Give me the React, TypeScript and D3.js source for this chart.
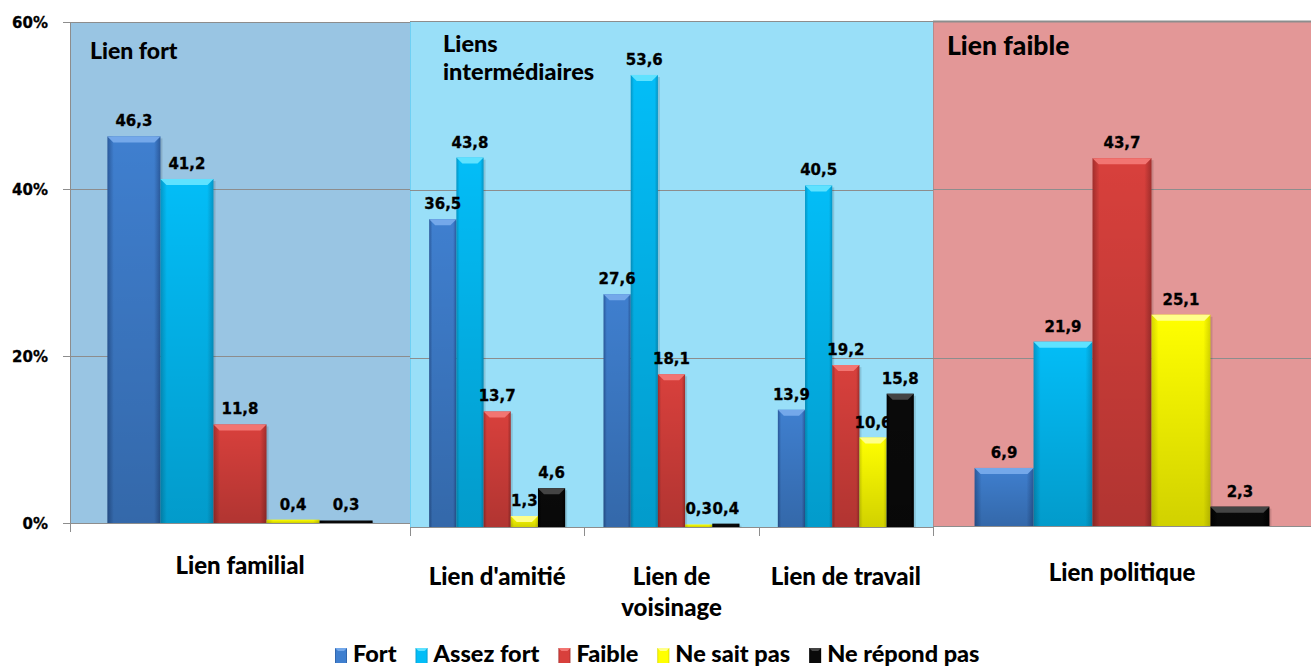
import React, { useEffect, useRef } from "react";
import * as d3 from "d3";

const categories = ["Lien familial", "Lien d'amitié", "Lien de voisinage", "Lien de travail", "Lien politique"];
const categoryLines = [["Lien familial"], ["Lien d'amitié"], ["Lien de", "voisinage"], ["Lien de travail"], ["Lien politique"]];
const seriesNames = ["Fort", "Assez fort", "Faible", "Ne sait pas", "Ne répond pas"];
const fort = [46.3, 36.5, 27.6, 13.9, 6.9];
const assezFort = [41.2, 43.8, 53.6, 40.5, 21.9];
const faible = [11.8, 13.7, 18.1, 19.2, 43.7];
const neSaitPas = [0.4, 1.3, 0.3, 10.6, 25.1];
const neRepondPas = [0.3, 4.6, 0.4, 15.8, 2.3];
const yTicks = [0, 20, 40, 60];
const panelTitles = [["Lien fort"], ["Liens", "intermédiaires"], ["Lien faible"]];

const seriesValues = [fort, assezFort, faible, neSaitPas, neRepondPas];

// visual styling
const seriesColors = [
  { base: "#3f7fcf", edge: "#2b5a9c", top: "#74a8ea" },
  { base: "#03bdf7", edge: "#0496c6", top: "#5fe2ff" },
  { base: "#d8403c", edge: "#a22e2c", top: "#f27572" },
  { base: "#ffff00", edge: "#d6d600", top: "#ffff8a" },
  { base: "#0a0a0a", edge: "#000000", top: "#444444" },
];

const panels = [
  { cats: [0], x0: 70, x1: 410, base: 523, top: 22, fill: "#99c5e3", titleX: 90, titleY: 59, titleSize: 23, lineH: 0 },
  { cats: [1, 2, 3], x0: 410, x1: 933, base: 527, top: 21, fill: "#99dff8", titleX: 443, titleY: 52, titleSize: 23.5, lineH: 28 },
  { cats: [4], x0: 933, x1: 1311, base: 526, top: 21, fill: "#e39797", titleX: 947, titleY: 55, titleSize: 26.5, lineH: 0 },
];

const FONT = "Lato, 'Open Sans', sans-serif";
const NUMFONT = "'DejaVu Sans', Verdana, sans-serif";

export default function App() {
  const ref = useRef<SVGSVGElement | null>(null);

  useEffect(() => {
    document.body.style.margin = "0";
    const svg = d3.select(ref.current);
    svg.selectAll("*").remove();

    const defs = svg.append("defs");
    seriesColors.forEach((c, i) => {
      const g = defs.append("linearGradient").attr("id", `g${i}`).attr("x1", 0).attr("x2", 1).attr("y1", 0).attr("y2", 0);
      g.append("stop").attr("offset", "0").attr("stop-color", c.edge);
      g.append("stop").attr("offset", "0.12").attr("stop-color", c.base);
      g.append("stop").attr("offset", "0.88").attr("stop-color", c.base);
      g.append("stop").attr("offset", "1").attr("stop-color", c.edge);
    });
    const shade = defs.append("linearGradient").attr("id", "shade").attr("x1", 0).attr("x2", 0).attr("y1", 0).attr("y2", 1);
    shade.append("stop").attr("offset", "0").attr("stop-color", "#000").attr("stop-opacity", 0);
    shade.append("stop").attr("offset", "1").attr("stop-color", "#000").attr("stop-opacity", 0.18);

    const fmt = (v: number) => d3.format(".1f")(v).replace(".", ",");
    const grid = "#8d8d8d";

    panels.forEach((p, pi) => {
      const y = d3.scaleLinear().domain([0, 60]).range([p.base, p.top]);
      const g = svg.append("g");
      g.append("rect").attr("x", p.x0).attr("y", y(60)).attr("width", p.x1 - p.x0).attr("height", y(0) - y(60)).attr("fill", p.fill);
      if (pi === 1) {
        g.append("line").attr("x1", p.x0 + 0.5).attr("x2", p.x0 + 0.5).attr("y1", y(60)).attr("y2", y(0)).attr("stroke", "#6fd0f4");
      }
      if (pi === 2) {
        g.append("line").attr("x1", p.x0 + 0.5).attr("x2", p.x0 + 0.5).attr("y1", y(60)).attr("y2", y(0)).attr("stroke", "#b78a8a");
      }
      // gridlines
      yTicks.forEach((t) => {
        g.append("line")
          .attr("x1", pi === 0 ? p.x0 - 7 : p.x0).attr("x2", p.x1)
          .attr("y1", Math.round(y(t)) + 0.5).attr("y2", Math.round(y(t)) + 0.5)
          .attr("stroke", grid).attr("stroke-width", t === 60 && pi === 2 ? 2 : 1);
      });
      // x axis ticks
      const catBand = d3.scaleBand<number>().domain(p.cats).range([p.x0, p.x1]);
      const tickXs = [p.x0, ...p.cats.map((c) => (catBand(c) as number) + catBand.bandwidth())];
      tickXs.forEach((tx, k) => {
        if (pi === 2 && k > 0) return;
        g.append("line").attr("x1", Math.round(tx) + 0.5).attr("x2", Math.round(tx) + 0.5)
          .attr("y1", y(0)).attr("y2", y(0) + 9).attr("stroke", grid);
      });

      if (pi === 0) {
        g.append("line").attr("x1", p.x0 + 0.5).attr("x2", p.x0 + 0.5).attr("y1", y(60)).attr("y2", y(0) + 9).attr("stroke", grid);
        yTicks.forEach((t) => {
          g.append("text").attr("x", 48).attr("y", y(t) + 5.5).attr("text-anchor", "end")
            .attr("font-family", NUMFONT).attr("font-weight", "bold").attr("font-size", 15).attr("fill", "#000")
            .attr("stroke", "#000").attr("stroke-width", 0.3)
            .text(`${t}%`);
        });
      }

      // title
      const tt = g.append("text").attr("font-family", FONT).attr("font-weight", 900).attr("font-size", p.titleSize).attr("fill", "#000");
      panelTitles[pi].forEach((line, li) => {
        tt.append("tspan").attr("x", p.titleX).attr("y", p.titleY + li * p.lineH).text(line);
      });

      // bars
      const drawSeries = (si: number) => {
        p.cats.forEach((c) => {
          const bx = catBand(c) as number;
          const bw = catBand.bandwidth();
          const xs = d3.scaleBand<number>().domain(d3.range(seriesNames.length)).range([bx + bw * 0.11, bx + bw * 0.89]);
          const v = seriesValues[si][c];
          const x = xs(si) as number;
          const w = xs.bandwidth();
          const top = y(v);
          const h = y(0) - top;
          const bg = g.append("g");
          bg.append("rect").attr("x", x + 2).attr("y", top + 2).attr("width", w).attr("height", h - 2).attr("fill", "#000").attr("opacity", 0.12);
          bg.append("rect").attr("x", x).attr("y", top).attr("width", w).attr("height", h).attr("fill", `url(#g${si})`);
          bg.append("rect").attr("x", x).attr("y", top).attr("width", w).attr("height", h).attr("fill", "url(#shade)");
          if (h > 8) {
            const b = Math.min(6, w / 4);
            bg.append("polygon")
              .attr("points", `${x},${top} ${x + w},${top} ${x + w - b},${top + b} ${x + b},${top + b}`)
              .attr("fill", seriesColors[si].top);
          }
        });
      };
      const drawLabels = (si: number) => {
        p.cats.forEach((c) => {
          const bx = catBand(c) as number;
          const bw = catBand.bandwidth();
          const xs = d3.scaleBand<number>().domain(d3.range(seriesNames.length)).range([bx + bw * 0.11, bx + bw * 0.89]);
          const v = seriesValues[si][c];
          g.append("text")
            .attr("x", (xs(si) as number) + xs.bandwidth() / 2)
            .attr("y", y(v) - 10)
            .attr("text-anchor", "middle")
            .attr("font-family", NUMFONT).attr("font-weight", "bold").attr("font-size", 15).attr("fill", "#000")
            .attr("stroke", "#000").attr("stroke-width", 0.3)
            .text(fmt(v));
        });
      };
      [0, 1, 2, 3].forEach(drawSeries);
      [0, 1, 2, 3].forEach(drawLabels);
      drawSeries(4);
      drawLabels(4);

      // category labels
      p.cats.forEach((c) => {
        const cx = (catBand(c) as number) + catBand.bandwidth() / 2;
        const lines = categoryLines[c];
        const t = g.append("text").attr("text-anchor", "middle").attr("font-family", FONT).attr("font-weight", 900)
          .attr("font-size", 24).attr("fill", "#000");
        lines.forEach((ln, li) => {
          t.append("tspan").attr("x", cx).attr("y", y(0) + (pi === 1 ? 58 : pi === 0 ? 51 : 55) + li * 31).text(ln);
        });
      });
    });

    // legend
    const leg = svg.append("g");
    let lx = 335;
    seriesNames.forEach((name, si) => {
      const item = leg.append("g");
      item.append("rect").attr("x", lx).attr("y", 648).attr("width", 12).attr("height", 15).attr("fill", `url(#g${si})`);
      item.append("polygon").attr("points", `${lx},648 ${lx + 12},648 ${lx + 9},651 ${lx + 3},651`).attr("fill", seriesColors[si].top);
      const t = item.append("text").attr("x", lx + 18).attr("y", 662).attr("font-family", FONT).attr("font-weight", 900)
        .attr("font-size", 23.5).attr("fill", "#000").text(name);
      const tw = (t.node() as SVGTextElement).getComputedTextLength();
      lx += 18 + tw + 19;
    });
  }, []);

  return <svg ref={ref} width={1311} height={668} style={{ display: "block", background: "#fff" }} />;
}
